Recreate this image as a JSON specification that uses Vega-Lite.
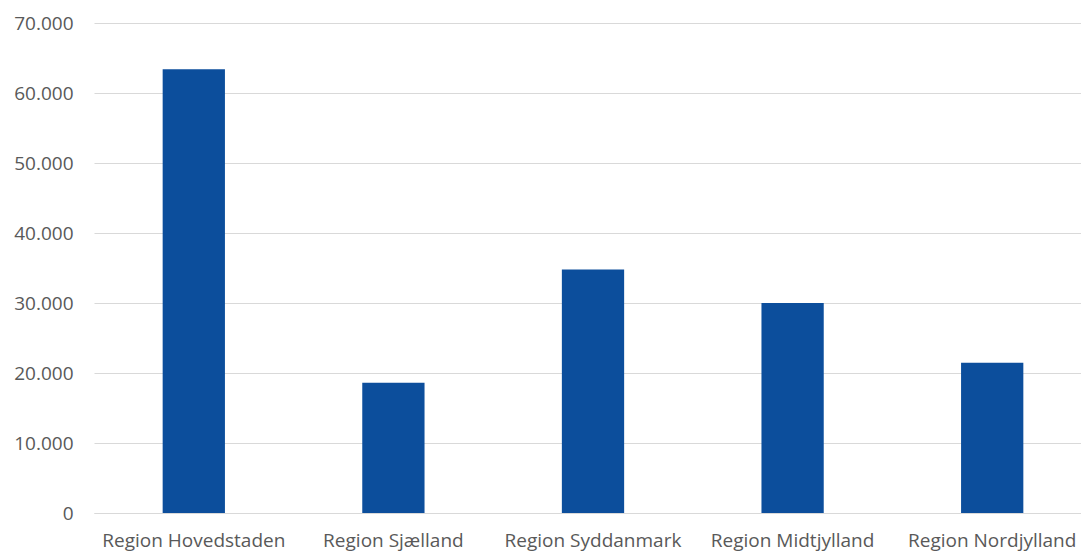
{
  "$schema": "https://vega.github.io/schema/vega-lite/v6.json",
  "width": 987,
  "height": 490,
  "autosize": {"type": "none"},
  "padding": {"left": 94, "top": 23, "right": 0, "bottom": 39},
  "background": "white",
  "config": {
    "locale": {"number": {"decimal": ",", "thousands": ".", "grouping": [3], "currency": ["", " kr."]}},
    "view": {"stroke": null},
    "font": "Open Sans"
  },
  "data": {
    "values": [
      {"region": "Region Hovedstaden", "value": 63400},
      {"region": "Region Sjælland", "value": 18600},
      {"region": "Region Syddanmark", "value": 34800},
      {"region": "Region Midtjylland", "value": 30000},
      {"region": "Region Nordjylland", "value": 21450}
    ]
  },
  "mark": {"type": "bar", "color": "#0C4E9C"},
  "encoding": {
    "x": {
      "field": "region",
      "type": "nominal",
      "sort": null,
      "scale": {"paddingInner": 0.688, "paddingOuter": 0.344, "range": [0, 998]},
      "axis": {
        "title": null,
        "labelAngle": 0,
        "ticks": false,
        "domain": true,
        "domainColor": "#D9D9D9",
        "labelFont": "Open Sans",
        "labelFontSize": 19,
        "labelColor": "#595959",
        "labelPadding": 18,
        "labelLimit": 400,
        "labelOverlap": false,
        "labelBound": false,
        "labelFlush": false
      }
    },
    "y": {
      "field": "value",
      "type": "quantitative",
      "scale": {"domain": [0, 70000], "nice": false},
      "axis": {
        "title": null,
        "values": [0, 10000, 20000, 30000, 40000, 50000, 60000, 70000],
        "format": ",d",
        "ticks": false,
        "domain": false,
        "gridColor": "#D9D9D9",
        "gridWidth": 1,
        "labelFont": "Open Sans",
        "labelFontSize": 19,
        "labelColor": "#595959",
        "labelPadding": 21
      }
    }
  }
}
